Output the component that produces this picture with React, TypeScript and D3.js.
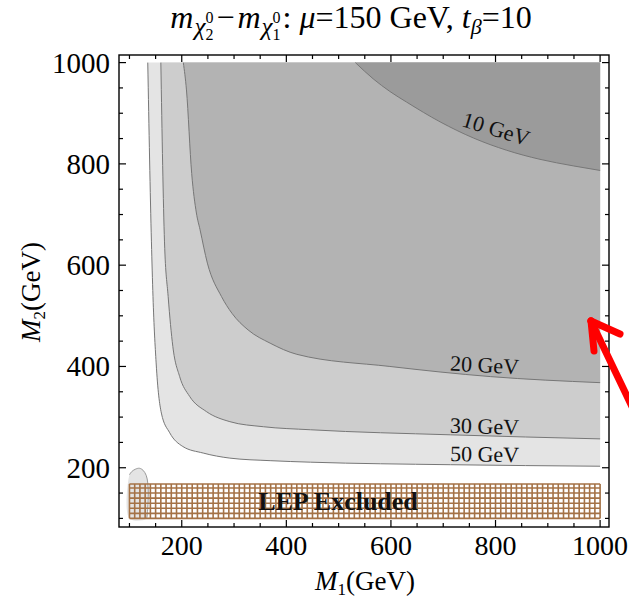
import React from 'react';
import * as d3 from 'd3';

const W = 629;
const H = 601;

// Mass-splitting contours in the (M1, M2) plane, GeV
const contour50: [number, number][] = [
  [135, 1000], [142, 646], [145, 538], [151, 407], [161, 308], [177, 269], [202, 242],
  [241, 229], [292, 219], [369, 214], [446, 211], [714, 206], [1000, 203],
];
const contour30: [number, number][] = [
  [160, 1000], [167, 646], [174, 538], [183, 439], [196, 380], [215, 341], [247, 311],
  [292, 291], [356, 281], [446, 275], [714, 265], [1000, 257],
];
const contour20: [number, number][] = [
  [203, 1000], [209, 946], [219, 781], [228, 703], [235, 670], [249, 604], [276, 538],
  [296, 505], [327, 472], [369, 446], [420, 424], [598, 400], [790, 380], [1000, 368],
];
const contour10: [number, number][] = [
  [532, 1000], [566, 968], [598, 943], [630, 922], [694, 883], [758, 851], [821, 827],
  [885, 809], [949, 796], [1000, 787],
];
// Small closed island of the 50 GeV level near the origin
const island50: [number, number][] = [
  [100, 186], [104, 192], [111, 197], [119, 199], [126, 195], [132, 185], [135, 170],
  [136, 150], [135, 120], [133, 100], [100, 100],
];

const contourLabels = ['50 GeV', '30 GeV', '20 GeV', '10 GeV'];

// LEP exclusion band
const lepM1: [number, number] = [100, 1000];
const lepM2: [number, number] = [100, 168];

const majorTicks = [200, 400, 600, 800, 1000];
const minorTicks = [100, 150, 250, 300, 350, 450, 500, 550, 650, 700, 750, 850, 900, 950];

const SERIF = "'Liberation Serif', 'DejaVu Serif', serif";

export default function App() {
  const frame = { left: 119, right: 609, top: 55, bottom: 527 };
  const x = d3.scaleLinear().domain([80, 1017]).range([frame.left, frame.right]);
  const y = d3.scaleLinear().domain([83, 1015]).range([frame.bottom, frame.top]);

  const line = d3
    .line<[number, number]>()
    .x((d) => x(d[0]))
    .y((d) => y(d[1]))
    .curve(d3.curveMonotoneX);

  const closedLine = d3
    .line<[number, number]>()
    .x((d) => x(d[0]))
    .y((d) => y(d[1]))
    .curve(d3.curveCatmullRomClosed.alpha(0.5));

  const openIsland = d3
    .line<[number, number]>()
    .x((d) => x(d[0]))
    .y((d) => y(d[1]))
    .curve(d3.curveCatmullRom.alpha(0.5));

  const corner = `L${x(1000)},${y(1000)}Z`;
  const bands = [
    { pts: contour50, fill: '#e4e4e4' },
    { pts: contour30, fill: '#cdcdcd' },
    { pts: contour20, fill: '#b3b3b3' },
    { pts: contour10, fill: '#9b9b9b' },
  ];

  const labelSpots = [
    { m1: 779, m2: 227, rot: 1 },
    { m1: 779, m2: 282, rot: 1.5 },
    { m1: 779, m2: 403, rot: 3 },
    { m1: 801, m2: 869, rot: 17 },
  ];

  const hatchColor = '#a47246';
  const vLines = d3.range(lepM1[0], lepM1[1] + 0.1, 10);
  const hLines = d3.range(lepM2[0], lepM2[1], 10).concat([lepM2[1]]);

  const majorLen = 7;
  const minorLen = 4;

  return (
    <svg
      width={W}
      height={H}
      style={{ position: 'absolute', left: 0, top: 0, background: '#fff' }}
      fontFamily={SERIF}
    >
      <rect width={W} height={H} fill="#fff" />

      {/* filled contour bands */}
      {bands.map((b, i) => (
        <path key={'band' + i} d={(line(b.pts) as string) + corner} fill={b.fill} stroke="none" />
      ))}
      <path d={closedLine(island50) as string} fill="#e4e4e4" stroke="none" />

      {/* contour lines */}
      {bands.map((b, i) => (
        <path key={'cl' + i} d={line(b.pts) as string} fill="none" stroke="#777" strokeWidth={1} />
      ))}
      <path
        d={openIsland(island50.slice(0, island50.length - 1)) as string}
        fill="none"
        stroke="#999"
        strokeWidth={1}
      />

      {/* contour labels */}
      {contourLabels.map((t, i) => {
        const s = labelSpots[i];
        return (
          <text
            key={'lab' + i}
            transform={`translate(${x(s.m1)},${y(s.m2)}) rotate(${s.rot})`}
            textAnchor="middle"
            dominantBaseline="central"
            fontSize={22}
            fill="#111"
          >
            {t}
          </text>
        );
      })}

      {/* LEP excluded hatch */}
      <g stroke={hatchColor} strokeWidth={1.6}>
        {vLines.map((v) => (
          <line key={'v' + v} x1={x(v)} x2={x(v)} y1={y(lepM2[0])} y2={y(lepM2[1])} />
        ))}
        {hLines.map((v) => (
          <line key={'h' + v} x1={x(lepM1[0])} x2={x(lepM1[1])} y1={y(v)} y2={y(v)} />
        ))}
      </g>
      <text
        x={338}
        y={510}
        textAnchor="middle"
        fontSize={26}
        fontWeight="bold"
        fill="#111"
      >
        LEP Excluded
      </text>

      {/* frame */}
      <rect
        x={frame.left}
        y={frame.top}
        width={frame.right - frame.left}
        height={frame.bottom - frame.top}
        fill="none"
        stroke="#000"
        strokeWidth={1.4}
      />

      {/* ticks on all four sides, pointing inward */}
      <g stroke="#000" strokeWidth={1.2}>
        {[...majorTicks.map((v) => [v, majorLen]), ...minorTicks.map((v) => [v, minorLen])].map(
          ([v, len]) => (
            <g key={'t' + v}>
              <line x1={x(v)} x2={x(v)} y1={frame.bottom} y2={frame.bottom - len} />
              <line x1={x(v)} x2={x(v)} y1={frame.top} y2={frame.top + len} />
              <line x1={frame.left} x2={frame.left + len} y1={y(v)} y2={y(v)} />
              <line x1={frame.right} x2={frame.right - len} y1={y(v)} y2={y(v)} />
            </g>
          )
        )}
      </g>

      {/* tick labels */}
      {majorTicks.map((v) => (
        <text key={'xl' + v} x={x(v)} y={555} textAnchor="middle" fontSize={28} fill="#000">
          {v}
        </text>
      ))}
      {majorTicks.map((v) => (
        <text
          key={'yl' + v}
          x={110}
          y={y(v)}
          textAnchor="end"
          dominantBaseline="central"
          fontSize={29}
          fill="#000"
        >
          {v}
        </text>
      ))}

      {/* axis titles */}
      <text x={365} y={590} textAnchor="middle" fontSize={27} fill="#000">
        <tspan fontStyle="italic">M</tspan>
        <tspan fontSize={17} dy={5}>1</tspan>
        <tspan dy={-5}>(GeV)</tspan>
      </text>
      <text transform="translate(40,292) rotate(-90)" textAnchor="middle" fontSize={27} fill="#000">
        <tspan fontStyle="italic">M</tspan>
        <tspan fontSize={17} dy={5}>2</tspan>
        <tspan dy={-5}>(GeV)</tspan>
      </text>

      {/* plot title */}
      <text x={351} y={28} textAnchor="middle" fontSize={32} fill="#000">
        <tspan fontStyle="italic">m</tspan>
        <tspan fontStyle="italic" fontSize={25} dx={1} dy={7}>χ</tspan>
        <tspan fontSize={16} dy={-12}>0</tspan>
        <tspan fontSize={16} dx={-8} dy={17}>2</tspan>
        <tspan dx={3} dy={-12}>−</tspan>
        <tspan fontStyle="italic" dx={3}>m</tspan>
        <tspan fontStyle="italic" fontSize={25} dx={1} dy={7}>χ</tspan>
        <tspan fontSize={16} dy={-12}>0</tspan>
        <tspan fontSize={16} dx={-8} dy={17}>1</tspan>
        <tspan dx={2} dy={-12}>: </tspan>
        <tspan fontStyle="italic">μ</tspan>
        <tspan>=150 GeV, </tspan>
        <tspan fontStyle="italic">t</tspan>
        <tspan fontStyle="italic" fontSize={22} dy={6}>β</tspan>
        <tspan dy={-6}>=10</tspan>
      </text>

      {/* red pointer arrow */}
      <g stroke="#ff0000" strokeWidth={7} strokeLinecap="round" fill="none">
        <line x1={591} y1={321} x2={648} y2={440} />
        <line x1={591} y1={321} x2={594} y2={351} />
        <line x1={591} y1={321} x2={620} y2={334} />
      </g>
    </svg>
  );
}
